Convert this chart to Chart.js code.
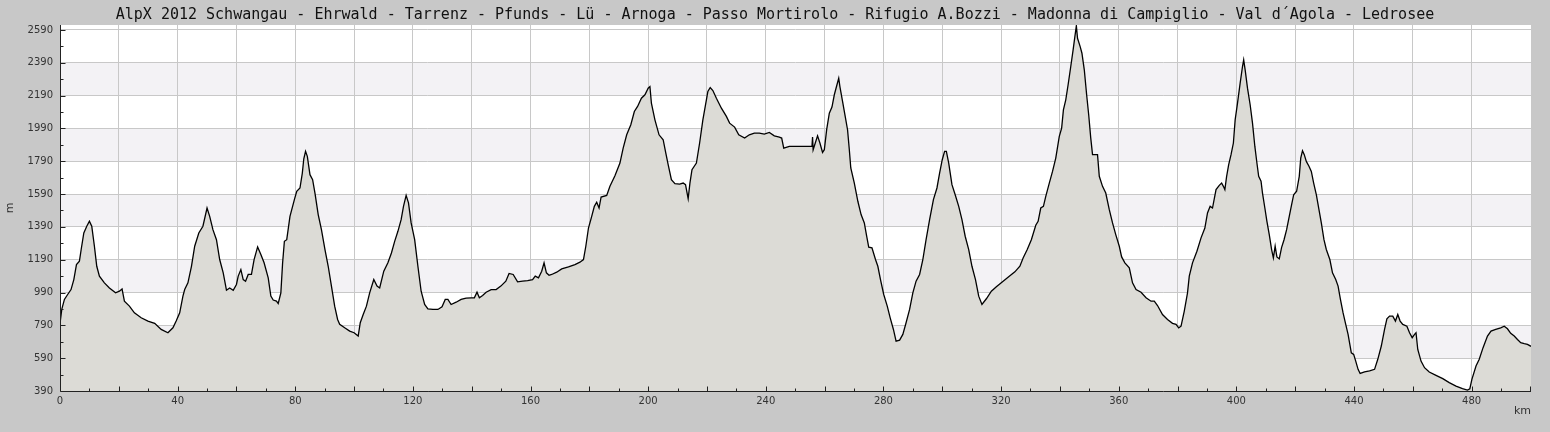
<!DOCTYPE html>
<html>
<head>
<meta charset="utf-8">
<title>AlpX 2012</title>
<script src="https://cdn.jsdelivr.net/npm/chart.js@4.4.1/dist/chart.umd.min.js"></script>
<style>
    html, body { margin: 0; padding: 0; background: #c8c8c8; }
    canvas { display: block; }
</style>
</head>
<body>
<canvas id="myChart" width="1550" height="432"></canvas>
<script>
var chartTitle = 'AlpX 2012 Schwangau - Ehrwald - Tarrenz - Pfunds - Lü - Arnoga - Passo Mortirolo - Rifugio A.Bozzi - Madonna di Campiglio - Val d´Agola - Ledrosee';

// Distanz (km)
var distanceKm = [
    0, 0.6, 1.5, 2.6, 3.75, 4.7, 5.6, 6.6, 7.2, 8.1, 9.1, 10.0, 10.8, 11.7, 12.5, 13.4, 15.1, 16.8, 18.9, 20.2,
    21.1, 21.9, 23.6, 25.3, 27.6, 29.9, 32.2, 34.4, 36.7, 38.4, 39.5, 40.7, 41.8, 42.4, 43.5, 44.7, 45.8, 47.2, 48.6, 50.0,
    50.9, 52.0, 53.2, 54.3, 55.5, 56.6, 57.7, 58.9, 60.0, 60.6, 61.5, 62.3, 63.1, 64.0, 65.1, 66.0, 67.2, 68.3, 69.4, 70.8,
    71.7, 72.5, 73.6, 74.2, 75.1, 75.7, 76.3, 77.1, 78.2, 79.7, 80.5, 81.6, 82.4, 82.9, 83.5, 84.1, 85.0, 85.9, 86.7, 87.8,
    88.9, 90.1, 91.2, 92.3, 93.4, 94.4, 95.1, 96.8, 98.5, 100.0, 101.4, 102.1, 103.1, 104.2, 105.3, 106.7, 107.8, 108.7, 110.1, 111.5,
    112.7, 113.8, 114.9, 116.0, 116.8, 117.7, 118.5, 119.4, 120.6, 121.7, 122.8, 124.0, 125.1, 126.8, 128.5, 129.9, 131.0, 131.9, 133.0, 134.7,
    136.4, 138.1, 139.8, 140.9, 141.8, 142.6, 143.7, 144.9, 146.6, 148.3, 149.9, 151.6, 152.7, 154.1, 155.6, 157.3, 159.0, 160.7, 161.6, 162.7,
    163.8, 164.6, 165.4, 166.3, 167.2, 168.9, 170.6, 172.9, 175.1, 176.8, 178.0, 178.8, 179.7, 180.8, 181.7, 182.5, 183.3, 184.0, 185.9, 187.0,
    188.7, 190.4, 191.5, 192.7, 194.1, 195.3, 196.4, 197.7, 198.9, 200.0, 200.6, 201.1, 202.3, 203.7, 205.1, 206.0, 206.8, 207.9, 209.1, 210.7,
    211.9, 212.7, 213.6, 214.2, 214.9, 216.4, 217.5, 218.6, 219.8, 220.3, 221.1, 222.0, 223.2, 224.9, 226.6, 227.7, 229.4, 230.8, 232.8, 234.4,
    236.1, 237.8, 239.5, 241.2, 242.9, 244.6, 245.4, 246.1, 248.0, 255.7, 255.9, 256.1, 257.6, 258.4, 259.3, 259.9, 260.7, 261.6, 262.5, 263.3,
    264.2, 264.8, 265.2, 266.1, 267.0, 267.8, 268.4, 268.9, 270.1, 271.3, 272.4, 273.5, 274.3, 275.0, 276.1, 277.3, 278.1, 279.0, 280.1, 281.3,
    282.3, 283.4, 284.3, 285.5, 286.6, 287.7, 288.9, 290.0, 291.1, 292.3, 293.4, 294.5, 295.7, 297.0, 298.2, 299.1, 300.0, 300.8, 301.4, 302.2,
    303.3, 304.4, 305.6, 306.7, 307.8, 309.0, 310.1, 311.3, 312.4, 313.5, 315.0, 316.7, 318.4, 320.7, 322.9, 324.7, 326.4, 327.5, 328.9, 330.3,
    331.8, 332.6, 333.5, 334.4, 335.2, 336.4, 337.5, 338.6, 339.8, 340.6, 341.2, 342.0, 342.8, 343.7, 344.5, 345.1, 345.6, 346.0, 346.9, 347.5,
    348.3, 349.1, 349.8, 350.5, 351.1, 352.8, 353.4, 354.5, 355.6, 356.8, 357.9, 359.0, 360.2, 361.0, 362.1, 363.6, 364.7, 365.9, 367.6, 369.3,
    371.0, 372.1, 373.2, 374.9, 376.6, 378.3, 379.5, 380.4, 381.2, 382.3, 383.4, 384.0, 385.1, 386.6, 388.0, 389.3, 390.2, 391.1, 391.9, 393.1,
    394.2, 395.0, 395.6, 396.1, 396.7, 397.4, 398.2, 399.0, 399.6, 400.4, 401.3, 402.1, 402.5, 403.0, 403.8, 404.7, 405.5, 406.3, 407.0, 407.6,
    408.4, 408.9, 409.7, 410.4, 411.2, 412.0, 412.6, 413.2, 413.8, 414.6, 415.4, 416.2, 417.1, 418.0, 418.8, 419.5, 420.5, 421.4, 421.9, 422.5,
    423.1, 423.8, 424.7, 425.5, 426.3, 427.2, 428.1, 428.9, 429.8, 430.6, 431.8, 432.7, 433.8, 434.6, 435.4, 436.3, 437.2, 438.0, 439.1, 439.9,
    440.6, 441.4, 442.1, 443.6, 445.3, 447.0, 448.1, 449.3, 450.4, 451.2, 452.1, 453.2, 454.1, 454.9, 455.7, 456.6, 458.0, 458.9, 459.8, 460.6,
    461.1, 461.7, 462.8, 464.0, 465.6, 467.9, 470.2, 472.4, 474.7, 476.9, 478.6, 479.4, 480.1, 481.5, 482.6, 483.9, 485.4, 486.6, 488.2, 489.9,
    491.1, 492.2, 493.3, 494.5, 495.6, 496.7, 497.9, 499.0, 500.2
];

// Höhe (m)
var elevationM = [
    800, 887, 948, 978, 1008, 1069, 1160, 1181, 1252, 1353, 1394, 1424, 1394, 1272, 1150, 1090, 1049, 1018, 988, 998,
    1012, 937, 907, 866, 836, 816, 802, 765, 745, 775, 816, 866, 968, 1008, 1049, 1150, 1272, 1353, 1394, 1505,
    1454, 1373, 1312, 1191, 1110, 1004, 1018, 1004, 1039, 1090, 1130, 1069, 1059, 1100, 1100, 1191, 1268, 1221, 1171, 1079,
    968, 944, 938, 923, 988, 1171, 1302, 1312, 1454, 1556, 1607, 1627, 1718, 1805, 1850, 1820, 1708, 1678, 1596, 1465,
    1373, 1252, 1150, 1029, 907, 826, 796, 775, 755, 745, 725, 806, 856, 907, 988, 1069, 1029, 1018, 1120, 1171,
    1231, 1302, 1363, 1434, 1515, 1582, 1536, 1414, 1312, 1150, 998, 917, 891, 887, 887, 903, 948, 948, 917, 931,
    948, 956, 958, 958, 992, 958, 972, 992, 1008, 1008, 1029, 1059, 1106, 1100, 1055, 1059, 1063, 1069, 1090, 1080,
    1120, 1171, 1110, 1095, 1100, 1114, 1134, 1146, 1160, 1175, 1191, 1272, 1383, 1454, 1515, 1540, 1505, 1572, 1582, 1637,
    1702, 1779, 1870, 1951, 2012, 2093, 2124, 2174, 2195, 2235, 2245, 2144, 2042, 1951, 1921, 1840, 1769, 1678, 1653, 1651,
    1657, 1647, 1562, 1657, 1738, 1779, 1901, 2042, 2164, 2215, 2239, 2221, 2174, 2113, 2063, 2022, 1998, 1951, 1931, 1951,
    1961, 1961, 1955, 1965, 1945, 1937, 1931, 1870, 1880, 1880, 1937, 1860, 1945, 1901, 1844, 1860, 1982, 2083, 2120, 2195,
    2256, 2296, 2245, 2154, 2063, 1982, 1860, 1749, 1657, 1546, 1465, 1414, 1333, 1266, 1262, 1191, 1150, 1069, 978, 907,
    836, 765, 694, 700, 735, 806, 887, 988, 1059, 1100, 1191, 1312, 1434, 1556, 1627, 1718, 1799, 1850, 1850, 1779,
    1647, 1586, 1515, 1434, 1333, 1252, 1150, 1069, 968, 917, 952, 998, 1025, 1059, 1090, 1116, 1150, 1201, 1252, 1312,
    1400, 1424, 1505, 1515, 1576, 1657, 1728, 1809, 1941, 1992, 2103, 2164, 2256, 2367, 2468, 2549, 2615, 2539, 2488, 2448,
    2347, 2195, 2073, 1931, 1830, 1830, 1698, 1637, 1596, 1495, 1414, 1343, 1272, 1207, 1171, 1140, 1049, 1008, 992, 958,
    937, 937, 911, 856, 826, 802, 796, 775, 785, 877, 988, 1090, 1171, 1242, 1323, 1383, 1475, 1515, 1505, 1617,
    1643, 1657, 1637, 1617, 1698, 1769, 1830, 1901, 2042, 2144, 2266, 2367, 2408, 2347, 2235, 2134, 2022, 1880, 1779, 1698,
    1668, 1596, 1505, 1424, 1343, 1252, 1201, 1272, 1207, 1195, 1265, 1310, 1373, 1454, 1525, 1586, 1607, 1698, 1809, 1854,
    1830, 1789, 1759, 1728, 1657, 1586, 1495, 1414, 1312, 1252, 1191, 1110, 1069, 1029, 948, 866, 796, 735, 623, 613,
    572, 522, 497, 506, 512, 522, 583, 664, 765, 830, 846, 846, 816, 856, 816, 796, 785, 745, 715, 735,
    745, 643, 572, 532, 506, 485, 465, 441, 420, 404, 396, 404, 461, 542, 583, 654, 725, 755, 765, 775,
    785, 769, 741, 725, 704, 684, 678, 674, 662
];

// Achsen
var xTicks = [0, 40, 80, 120, 160, 200, 240, 280, 320, 360, 400, 440, 480];
var yTicks = [390, 590, 790, 990, 1190, 1390, 1590, 1790, 1990, 2190, 2390, 2590];
var yBands = [[590, 790], [990, 1190], [1390, 1590], [1790, 1990], [2190, 2390]];
var xMin = 0, xMax = 500.2, yMin = 390, yMax = 2620;

var points = [];
for (var i = 0; i != distanceKm.length; i++) {
    points.push({ x: distanceKm[i], y: elevationM[i] });
}

// Hintergrund, Bänder, Achsen mit Strichen nach innen
var framePlugin = {
    id: 'frame',
    beforeDraw: function (chart) {
        var ctx = chart.ctx, a = chart.chartArea, ys = chart.scales.y;
        ctx.save();
        ctx.fillStyle = '#ffffff';
        ctx.fillRect(a.left, a.top, a.right - a.left, a.bottom - a.top);
        ctx.fillStyle = '#f3f2f5';
        yBands.forEach(function (b) {
            var y1 = Math.round(ys.getPixelForValue(b[1]));
            var y0 = Math.round(ys.getPixelForValue(b[0]));
            ctx.fillRect(a.left, y1, a.right - a.left, y0 - y1);
        });
        ctx.restore();
    },
    afterDatasetsDraw: function (chart) {
        var ctx = chart.ctx, a = chart.chartArea, xs = chart.scales.x, ys = chart.scales.y;
        var left = Math.round(a.left) + 0.5, bottom = Math.round(a.bottom) + 0.5;
        ctx.save();
        ctx.strokeStyle = '#222222';
        ctx.lineWidth = 1;
        ctx.beginPath();
        ctx.moveTo(left, a.top);
        ctx.lineTo(left, bottom);
        ctx.lineTo(a.right, bottom);
        for (var v = yMin; v <= yMax; v += 100) {
            var py = Math.round(ys.getPixelForValue(v)) + 0.5;
            var len = ((v - yMin) % 200 === 0) ? 5 : 3;
            ctx.moveTo(left, py);
            ctx.lineTo(left + len, py);
        }
        for (var k = 10; k < xMax; k += 10) {
            var px = Math.round(xs.getPixelForValue(k)) + 0.5;
            var l2 = (k % 20 === 0) ? 5 : 3;
            ctx.moveTo(px, bottom);
            ctx.lineTo(px, bottom - l2);
        }
        ctx.stroke();
        ctx.restore();
    }
};

var tickFont = { family: 'DejaVu Sans', size: 10 };

var config = {
    type: 'line',
    data: {
        datasets: [{
            label: 'Höhe',
            data: points,
            borderColor: '#000000',
            borderWidth: 1.3,
            backgroundColor: '#dcdbd6',
            fill: 'start',
            tension: 0,
            pointRadius: 0
        }]
    },
    options: {
        responsive: false,
        animation: false,
        layout: { padding: 0 },
        plugins: {
            legend: { display: false },
            tooltip: { enabled: false },
            title: {
                display: true,
                text: chartTitle,
                color: '#111111',
                font: { family: 'DejaVu Sans Mono', size: 15, weight: 'normal' },
                padding: { top: 6, bottom: 1 }
            }
        },
        scales: {
            x: {
                type: 'linear',
                min: xMin,
                max: xMax,
                afterBuildTicks: function (scale) {
                    var t = [];
                    for (var k = 0; k <= 480; k += 20) t.push({ value: k });
                    scale.ticks = t;
                },
                afterFit: function (scale) { scale.height = 41; },
                ticks: {
                    autoSkip: false,
                    maxRotation: 0,
                    padding: 4,
                    color: '#333333',
                    font: tickFont,
                    callback: function (value) {
                        return xTicks.indexOf(value) >= 0 ? String(value) : '';
                    }
                },
                grid: { color: '#c8c8c8', lineWidth: 1, drawTicks: false },
                border: { display: false },
                title: {
                    display: true,
                    text: 'km',
                    align: 'end',
                    color: '#333333',
                    font: { family: 'DejaVu Sans', size: 11 },
                    padding: { top: 0, bottom: 14 }
                }
            },
            y: {
                type: 'linear',
                min: yMin,
                max: yMax,
                afterBuildTicks: function (scale) {
                    scale.ticks = yTicks.map(function (v) { return { value: v }; });
                },
                afterFit: function (scale) { scale.width = 60; },
                ticks: {
                    padding: 7,
                    color: '#333333',
                    font: tickFont,
                    callback: function (value) { return String(value); }
                },
                grid: { color: '#c8c8c8', lineWidth: 1, drawTicks: false },
                border: { display: false },
                title: {
                    display: true,
                    text: 'm',
                    color: '#333333',
                    font: { family: 'DejaVu Sans', size: 11 },
                    padding: { top: 4, bottom: 0 }
                }
            },
            yRight: {
                type: 'linear',
                position: 'right',
                display: true,
                afterFit: function (scale) { scale.width = 19; },
                ticks: { display: false },
                grid: { display: false, drawTicks: false },
                border: { display: false }
            }
        }
    },
    plugins: [framePlugin]
};

var chart = new Chart(document.getElementById('myChart'), config);
</script>
</body>
</html>
